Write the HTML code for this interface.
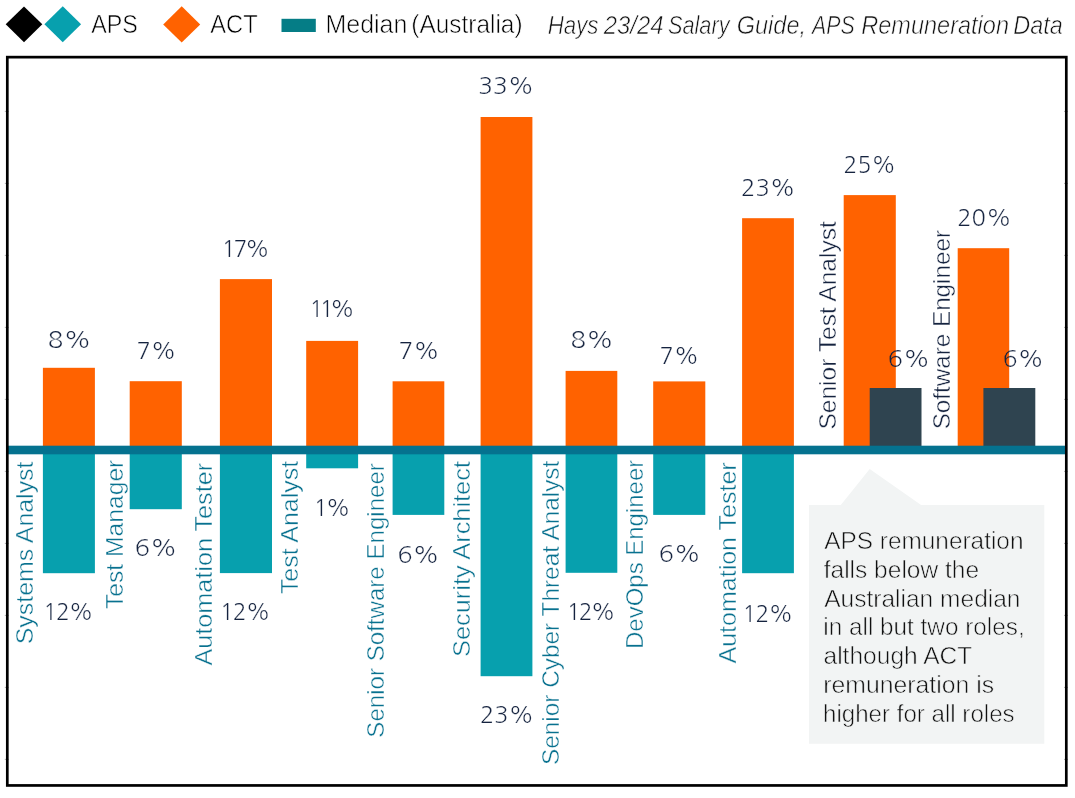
<!DOCTYPE html>
<html lang="en"><head><meta charset="utf-8"><title>APS Remuneration Data</title>
<style>
html,body{margin:0;padding:0;background:#fff;}
body{width:1075px;height:798px;overflow:hidden;font-family:"Liberation Sans",sans-serif;}
svg{display:block;}
text{font-family:"Liberation Sans",sans-serif;}
text.n{font-family:"NanumGothic","Liberation Sans",sans-serif;}
</style></head><body>
<svg width="1075" height="798" viewBox="0 0 1075 798">
<rect width="1075" height="798" fill="#ffffff"/>
<defs><linearGradient id="g1" gradientUnits="userSpaceOnUse" x1="880" y1="0" x2="930" y2="0"><stop offset="0.316" stop-color="#FF6200"/><stop offset="0.316" stop-color="#fff"/></linearGradient><linearGradient id="g2" gradientUnits="userSpaceOnUse" x1="1000" y1="0" x2="1050" y2="0"><stop offset="0.184" stop-color="#FF6200"/><stop offset="0.184" stop-color="#fff"/></linearGradient></defs>
<!-- legend -->
<polygon points="5.7,24.3 24,6.4 42.3,24.3 24,42.2" fill="#000"/>
<polygon points="44.4,24.2 62.75,6.3 81.1,24.2 62.75,42.2" fill="#07A0AE"/>
<polygon points="163.2,24.4 181.7,6.3 200.2,24.4 181.7,42.5" fill="#FF6200"/>
<rect x="281.5" y="18.8" width="34.3" height="13.2" fill="#057D86"/>
<!-- bars -->
<rect x="42.9" y="367.8" width="52.0" height="82.2" fill="#FF6200"/>
<rect x="42.9" y="450" width="52.0" height="123.2" fill="#07A0AE"/>
<rect x="129.7" y="381.2" width="52.1" height="68.8" fill="#FF6200"/>
<rect x="129.7" y="450" width="52.1" height="59.2" fill="#07A0AE"/>
<rect x="219.9" y="279.1" width="52.1" height="170.9" fill="#FF6200"/>
<rect x="219.9" y="450" width="52.1" height="123.1" fill="#07A0AE"/>
<rect x="306.2" y="340.9" width="51.9" height="109.1" fill="#FF6200"/>
<rect x="306.2" y="450" width="51.9" height="18.3" fill="#07A0AE"/>
<rect x="392.6" y="381.3" width="51.7" height="68.7" fill="#FF6200"/>
<rect x="392.6" y="450" width="51.7" height="64.9" fill="#07A0AE"/>
<rect x="480.6" y="117" width="51.8" height="333.0" fill="#FF6200"/>
<rect x="480.6" y="450" width="51.8" height="226.2" fill="#07A0AE"/>
<rect x="565.6" y="370.9" width="51.7" height="79.1" fill="#FF6200"/>
<rect x="565.6" y="450" width="51.7" height="122.8" fill="#07A0AE"/>
<rect x="653.2" y="381.4" width="52.1" height="68.6" fill="#FF6200"/>
<rect x="653.2" y="450" width="52.1" height="64.9" fill="#07A0AE"/>
<rect x="742.1" y="218.2" width="51.8" height="231.8" fill="#FF6200"/>
<rect x="742.1" y="450" width="51.8" height="123.2" fill="#07A0AE"/>
<rect x="843.7" y="195.1" width="52.1" height="254.9" fill="#FF6200"/>
<rect x="957.7" y="248.2" width="51.5" height="201.8" fill="#FF6200"/>
<rect x="869.7" y="388" width="51.8" height="62.0" fill="#2F4450"/>
<rect x="983.4" y="388" width="51.9" height="62.0" fill="#2F4450"/>
<!-- callout -->
<polygon points="809,505 840.8,505 869.7,468.9 921.1,505 1044.3,505 1044.3,743.7 809,743.7" fill="#F2F4F4"/>
<!-- median line -->
<rect x="8" y="445.7" width="1058" height="8.6" fill="#05728F"/>
<!-- frame + ticks -->
<path d="M4.8,111.4h4M1064,111.4h4M4.8,183.4h4M1064,183.4h4M4.8,255.4h4M1064,255.4h4M4.8,327.4h4M1064,327.4h4M4.8,399.4h4M1064,399.4h4M4.8,471.4h4M1064,471.4h4M4.8,543.4h4M1064,543.4h4M4.8,615.4h4M1064,615.4h4M4.8,687.4h4M1064,687.4h4M4.8,759.4h4M1064,759.4h4" stroke="#777" stroke-width="0.6" fill="none"/>
<rect x="7.3" y="57.15" width="1059" height="728.3" fill="none" stroke="#000" stroke-width="2.7"/>
<!-- text -->
<text x="91.26" y="32.8" font-size="25" fill="#000000" stroke="#fff" stroke-width="0.6" textLength="46.66" lengthAdjust="spacingAndGlyphs">APS</text>
<text x="210.25" y="32.8" font-size="25" fill="#000000" stroke="#fff" stroke-width="0.6" textLength="47.37" lengthAdjust="spacingAndGlyphs">ACT</text>
<text x="325.50" y="32.8" font-size="25" fill="#000000" stroke="#fff" stroke-width="0.6" textLength="81.88" lengthAdjust="spacingAndGlyphs">Median</text>
<text x="411.27" y="32.8" font-size="25" fill="#000000" stroke="#fff" stroke-width="0.6" textLength="111.25" lengthAdjust="spacingAndGlyphs">(Australia)</text>
<text x="547.64" y="34" font-size="25" fill="#111111" stroke="#fff" stroke-width="0.6" font-style="italic" textLength="50.91" lengthAdjust="spacingAndGlyphs">Hays</text>
<text x="603.77" y="34" font-size="25" fill="#111111" stroke="#fff" stroke-width="0.6" font-style="italic" textLength="59.78" lengthAdjust="spacingAndGlyphs">23/24</text>
<text x="667.88" y="34" font-size="25" fill="#111111" stroke="#fff" stroke-width="0.6" font-style="italic" textLength="61.65" lengthAdjust="spacingAndGlyphs">Salary</text>
<text x="736.73" y="34" font-size="25" fill="#111111" stroke="#fff" stroke-width="0.6" font-style="italic" textLength="69.35" lengthAdjust="spacingAndGlyphs">Guide,</text>
<text x="811.99" y="34" font-size="25" fill="#111111" stroke="#fff" stroke-width="0.6" font-style="italic" textLength="42.66" lengthAdjust="spacingAndGlyphs">APS</text>
<text x="861.27" y="34" font-size="25" fill="#111111" stroke="#fff" stroke-width="0.6" font-style="italic" textLength="147.70" lengthAdjust="spacingAndGlyphs">Remuneration</text>
<text x="1013.28" y="34" font-size="25" fill="#111111" stroke="#fff" stroke-width="0.6" font-style="italic" textLength="49.44" lengthAdjust="spacingAndGlyphs">Data</text>
<text x="47.82" y="348.2" font-size="22.8" fill="#15233F" stroke="#fff" stroke-width="0.2" class="n" textLength="43.64" lengthAdjust="spacingAndGlyphs">8%</text>
<text x="136.41" y="359.3" font-size="22.8" fill="#15233F" stroke="#fff" stroke-width="0.2" class="n" textLength="40.06" lengthAdjust="spacingAndGlyphs">7%</text>
<text x="221.78" y="257.3" font-size="22.8" fill="#15233F" stroke="#fff" stroke-width="0.2" class="n" textLength="48.16" lengthAdjust="spacing">17%</text>
<text x="309.40" y="317" font-size="22.8" fill="#15233F" stroke="#fff" stroke-width="0.2" class="n" textLength="45.51" lengthAdjust="spacing">11%</text>
<text x="398.41" y="358.9" font-size="22.8" fill="#15233F" stroke="#fff" stroke-width="0.2" class="n" textLength="41.31" lengthAdjust="spacingAndGlyphs">7%</text>
<text x="478.35" y="94.4" font-size="22.8" fill="#15233F" stroke="#fff" stroke-width="0.2" class="n" textLength="55.95" lengthAdjust="spacingAndGlyphs">33%</text>
<text x="570.52" y="348.2" font-size="22.8" fill="#15233F" stroke="#fff" stroke-width="0.2" class="n" textLength="43.49" lengthAdjust="spacingAndGlyphs">8%</text>
<text x="659.48" y="364.1" font-size="22.8" fill="#15233F" stroke="#fff" stroke-width="0.2" class="n" textLength="39.74" lengthAdjust="spacingAndGlyphs">7%</text>
<text x="741.07" y="196" font-size="22.8" fill="#15233F" stroke="#fff" stroke-width="0.2" class="n" textLength="54.67" lengthAdjust="spacingAndGlyphs">23%</text>
<text x="843.59" y="173.3" font-size="22.8" fill="#15233F" stroke="#fff" stroke-width="0.2" class="n" textLength="52.52" lengthAdjust="spacingAndGlyphs">25%</text>
<text x="957.21" y="226" font-size="22.8" fill="#15233F" stroke="#fff" stroke-width="0.2" class="n" textLength="54.51" lengthAdjust="spacingAndGlyphs">20%</text>
<text x="887.78" y="367.2" font-size="22.8" fill="#15233F" stroke="url(#g1)" stroke-width="0.2" class="n" textLength="42.46" lengthAdjust="spacingAndGlyphs">6%</text>
<text x="1002.74" y="367.2" font-size="22.8" fill="#15233F" stroke="url(#g2)" stroke-width="0.2" class="n" textLength="41.51" lengthAdjust="spacingAndGlyphs">6%</text>
<text x="43.23" y="620.1" font-size="22.8" fill="#15233F" stroke="#fff" stroke-width="0.2" class="n" textLength="50.50" lengthAdjust="spacing">12%</text>
<text x="134.68" y="555.8" font-size="22.8" fill="#15233F" stroke="#fff" stroke-width="0.2" class="n" textLength="42.63" lengthAdjust="spacingAndGlyphs">6%</text>
<text x="219.88" y="619.9" font-size="22.8" fill="#15233F" stroke="#fff" stroke-width="0.2" class="n" textLength="50.69" lengthAdjust="spacing">12%</text>
<text x="313.63" y="516" font-size="22.8" fill="#15233F" stroke="#fff" stroke-width="0.2" class="n" textLength="37.10" lengthAdjust="spacing">1%</text>
<text x="397.41" y="562.6" font-size="22.8" fill="#15233F" stroke="#fff" stroke-width="0.2" class="n" textLength="42.29" lengthAdjust="spacingAndGlyphs">6%</text>
<text x="479.93" y="723" font-size="22.8" fill="#15233F" stroke="#fff" stroke-width="0.2" class="n" textLength="54.16" lengthAdjust="spacingAndGlyphs">23%</text>
<text x="566.63" y="619.6" font-size="22.8" fill="#15233F" stroke="#fff" stroke-width="0.2" class="n" textLength="49.10" lengthAdjust="spacing">12%</text>
<text x="658.67" y="561.7" font-size="22.8" fill="#15233F" stroke="#fff" stroke-width="0.2" class="n" textLength="42.46" lengthAdjust="spacingAndGlyphs">6%</text>
<text x="742.39" y="621.8" font-size="22.8" fill="#15233F" stroke="#fff" stroke-width="0.2" class="n" textLength="50.85" lengthAdjust="spacing">12%</text>
<text transform="translate(33.4,644.33) rotate(-90)" font-size="24.3" fill="#08718F" stroke="#fff" stroke-width="0.45" textLength="182.84" lengthAdjust="spacingAndGlyphs">Systems Analyst</text>
<text transform="translate(123.2,609.12) rotate(-90)" font-size="24.3" fill="#08718F" stroke="#fff" stroke-width="0.45" textLength="149.45" lengthAdjust="spacingAndGlyphs">Test Manager</text>
<text transform="translate(212.3,665.53) rotate(-90)" font-size="24.3" fill="#08718F" stroke="#fff" stroke-width="0.45" textLength="202.66" lengthAdjust="spacingAndGlyphs">Automation Tester</text>
<text transform="translate(298.3,594.12) rotate(-90)" font-size="24.3" fill="#08718F" stroke="#fff" stroke-width="0.45" textLength="133.27" lengthAdjust="spacingAndGlyphs">Test Analyst</text>
<text transform="translate(383.9,737.64) rotate(-90)" font-size="24.3" fill="#08718F" stroke="#fff" stroke-width="0.45" textLength="274.55" lengthAdjust="spacingAndGlyphs">Senior Software Engineer</text>
<text transform="translate(470.4,656.96) rotate(-90)" font-size="24.3" fill="#08718F" stroke="#fff" stroke-width="0.45" textLength="195.88" lengthAdjust="spacingAndGlyphs">Security Architect</text>
<text transform="translate(559.4,765.03) rotate(-90)" font-size="24.3" fill="#08718F" stroke="#fff" stroke-width="0.45" textLength="304.36" lengthAdjust="spacingAndGlyphs">Senior Cyber Threat Analyst</text>
<text transform="translate(643.25,648.93) rotate(-90)" font-size="24.3" fill="#08718F" stroke="#fff" stroke-width="0.45" textLength="189.13" lengthAdjust="spacingAndGlyphs">DevOps Engineer</text>
<text transform="translate(736.2,663.52) rotate(-90)" font-size="24.3" fill="#08718F" stroke="#fff" stroke-width="0.45" textLength="201.17" lengthAdjust="spacingAndGlyphs">Automation Tester</text>
<text transform="translate(836.2,429.61) rotate(-90)" font-size="24.3" fill="#15233F" stroke="#fff" stroke-width="0.45" textLength="208.46" lengthAdjust="spacingAndGlyphs">Senior Test Analyst</text>
<text transform="translate(950.3,429.33) rotate(-90)" font-size="24.3" fill="#15233F" stroke="#fff" stroke-width="0.45" textLength="199.29" lengthAdjust="spacingAndGlyphs">Software Engineer</text>
<text x="824.19" y="549.0" font-size="24.6" fill="#111111" stroke="#F2F4F4" stroke-width="0.6" textLength="199.32" lengthAdjust="spacingAndGlyphs">APS remuneration</text>
<text x="823.70" y="577.8" font-size="24.6" fill="#111111" stroke="#F2F4F4" stroke-width="0.6" textLength="155.44" lengthAdjust="spacingAndGlyphs">falls below the</text>
<text x="824.18" y="606.6" font-size="24.6" fill="#111111" stroke="#F2F4F4" stroke-width="0.6" textLength="196.33" lengthAdjust="spacingAndGlyphs">Australian median</text>
<text x="823.30" y="635.4" font-size="24.6" fill="#111111" stroke="#F2F4F4" stroke-width="0.6" textLength="201.35" lengthAdjust="spacingAndGlyphs">in all but two roles,</text>
<text x="823.50" y="664.2" font-size="24.6" fill="#111111" stroke="#F2F4F4" stroke-width="0.6" textLength="148.82" lengthAdjust="spacingAndGlyphs">although ACT</text>
<text x="823.20" y="693.0" font-size="24.6" fill="#111111" stroke="#F2F4F4" stroke-width="0.6" textLength="170.89" lengthAdjust="spacingAndGlyphs">remuneration is</text>
<text x="822.99" y="721.8" font-size="24.6" fill="#111111" stroke="#F2F4F4" stroke-width="0.6" textLength="191.66" lengthAdjust="spacingAndGlyphs">higher for all roles</text>
</svg></body></html>
